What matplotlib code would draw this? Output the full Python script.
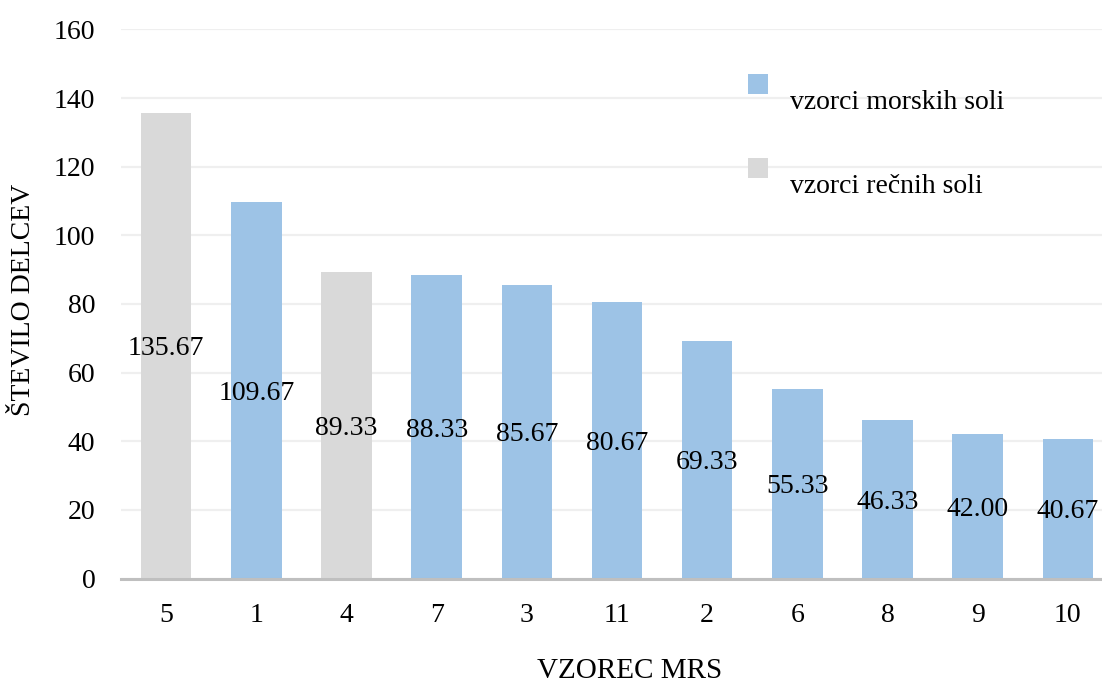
import matplotlib
matplotlib.use("Agg")
import matplotlib.pyplot as plt
from matplotlib.patches import Rectangle

# Samples ordered by particle count
categories = ["5", "1", "4", "7", "3", "11", "2", "6", "8", "9", "10"]
values = [135.67, 109.67, 89.33, 88.33, 85.67, 80.67, 69.33, 55.33, 46.33, 42.00, 40.67]
salt_type = ["river", "sea", "river", "sea", "sea", "sea", "sea", "sea", "sea", "sea", "sea"]
legend_labels = {"sea": "vzorci morskih soli", "river": "vzorci rečnih soli"}
y_ticks = [0, 20, 40, 60, 80, 100, 120, 140, 160]

colors = {"sea": "#9dc3e6", "river": "#d9d9d9"}

plt.rcParams["font.family"] = ["Liberation Serif", "DejaVu Serif"]

W, H = 1102, 684
fig = plt.figure(figsize=(W / 100, H / 100), dpi=100)
ax = fig.add_axes([121 / W, (H - 578.5) / H, (1113 - 121) / W, (578.5 - 29.5) / H])

x = list(range(len(categories)))
bars = ax.bar(x, values, width=0.56, color=[colors[t] for t in salt_type], zorder=3)

# Value labels sit in the middle of each bar
for xi, v in zip(x, values):
    ax.annotate(f"{v:.2f}", (xi, v / 2), xytext=(0, -2.2), textcoords="offset points",
                ha="center", va="center", fontsize=20, color="black", zorder=4)

ax.set_xlim(-0.5, len(categories) - 0.5)
ax.set_ylim(0, 160)
ax.set_yticks(y_ticks)
ax.set_yticklabels([str(t) for t in y_ticks], fontsize=20)
ax.set_xticks(x)
ax.set_xticklabels(categories, fontsize=20)
ax.tick_params(axis="y", length=0, pad=18.5)
ax.tick_params(axis="x", length=0, pad=18)

ax.grid(axis="y", color="#efefef", linewidth=1.6, zorder=0)
ax.set_axisbelow(True)
for side in ("top", "right", "left"):
    ax.spines[side].set_visible(False)
ax.spines["bottom"].set_color("#bfbfbf")
ax.spines["bottom"].set_linewidth(2.2)
ax.spines["bottom"].set_zorder(5)

fig.text(24 / W, 1 - 300 / H, "ŠTEVILO DELCEV", rotation=90, ha="center", va="center", fontsize=20)
fig.text(629.5 / W, 1 - 671 / H, "VZOREC MRS", ha="center", va="center", fontsize=21)

# Legend: swatch above and to the left of its label
for key, sq_top, base in (("sea", 74, 109.3), ("river", 158.3, 192.7)):
    fig.patches.append(Rectangle((748.3 / W, 1 - (sq_top + 19.7) / H), 19.7 / W, 19.7 / H,
                                 transform=fig.transFigure, facecolor=colors[key], edgecolor="none"))
    fig.text(790 / W, 1 - base / H, legend_labels[key], ha="left", va="baseline", fontsize=20)

fig.savefig("out.png", dpi=100)
